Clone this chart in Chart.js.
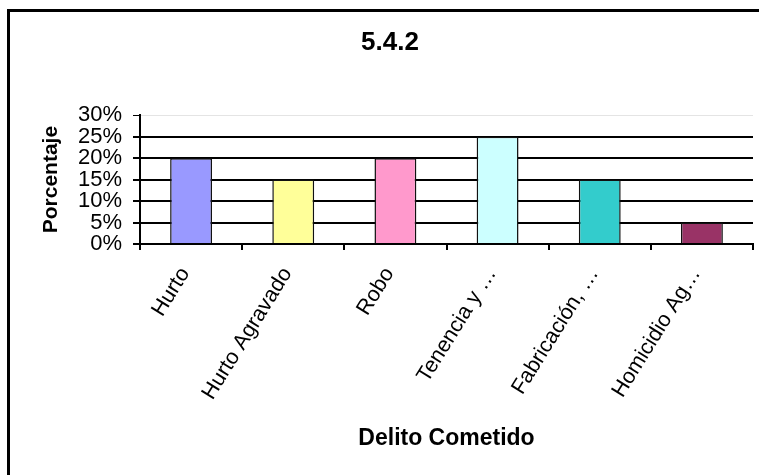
<!DOCTYPE html>
<html>
<head>
<meta charset="utf-8">
<script src="https://cdn.jsdelivr.net/npm/chart.js@4"></script>
<style>
  html, body { margin: 0; padding: 0; background: #fff; }
  #wrap { position: relative; width: 759px; height: 475px; }
</style>
</head>
<body>
<div id="wrap"><canvas id="delitos"></canvas></div>
<script>
// Delito cometido, porcentaje por tipo
const categories = ['Hurto', 'Hurto Agravado', 'Robo', 'Tenencia y …', 'Fabricación, …', 'Homicidio Ag…'];
const porcentajes = [20, 15, 20, 25, 15, 5];
const barColors = ['#9999FF', '#FFFF99', '#FF99CC', '#CCFFFF', '#33CCCC', '#993366'];
const yTicks = [0, 5, 10, 15, 20, 25, 30];

const FONT = "'Liberation Sans', Arial, sans-serif";

// white background plus the left/top frame lines
const framePlugin = {
  id: 'frame',
  beforeDraw(chart) {
    const ctx = chart.ctx;
    ctx.save();
    ctx.fillStyle = '#fff';
    ctx.fillRect(0, 0, chart.width, chart.height);
    ctx.fillStyle = '#000';
    ctx.fillRect(7, 9, 3, chart.height - 9);
    ctx.fillRect(7, 9, chart.width - 7, 3);
    ctx.restore();
  }
};

new Chart(document.getElementById('delitos'), {
  type: 'bar',
  data: {
    labels: categories,
    datasets: [{
      data: porcentajes,
      backgroundColor: barColors,
      borderColor: '#111',
      borderWidth: 1.5,
      barPercentage: 0.41,
      categoryPercentage: 1.0
    }]
  },
  options: {
    responsive: true,
    maintainAspectRatio: false,
    animation: false,
    layout: { padding: { left: 27, right: 6, top: 0, bottom: 0 } },
    plugins: {
      legend: { display: false },
      tooltip: { enabled: false },
      title: {
        display: true,
        text: '5.4.2',
        color: '#000',
        font: { family: FONT, size: 26, weight: 'bold' },
        padding: { top: 27, bottom: 57 }
      }
    },
    scales: {
      x: {
        grid: {
          display: true,
          drawOnChartArea: false,
          drawTicks: true,
          tickLength: 6,
          color: '#000',
          lineWidth: 2
        },
        border: { display: true, color: '#000', width: 2 },
        ticks: {
          color: '#000',
          font: { family: FONT, size: 21.5 },
          minRotation: 58,
          maxRotation: 58,
          padding: 13,
          labelOffset: -6,
          autoSkip: false
        },
        title: {
          display: true,
          text: 'Delito Cometido',
          color: '#000',
          font: { family: FONT, size: 23, weight: 'bold' },
          padding: { top: 0, bottom: 23 }
        },
        afterFit(scale) { scale.height = 231; }
      },
      y: {
        min: 0,
        max: 30,
        afterBuildTicks(scale) { scale.ticks = yTicks.map(v => ({ value: v })); },
        grid: {
          color: (c) => c.tick && c.tick.value === 30 ? '#e4e4e4' : '#000',
          lineWidth: (c) => c.tick && c.tick.value === 30 ? 1 : 2,
          tickColor: '#000',
          tickLength: 7,
          drawTicks: true
        },
        border: { display: true, color: '#000', width: 2 },
        ticks: {
          color: '#000',
          font: { family: FONT, size: 22 },
          padding: 11,
          autoSkip: false,
          callback: (v) => v + '%'
        },
        title: {
          display: true,
          text: 'Porcentaje',
          color: '#000',
          font: { family: FONT, size: 21, weight: 'bold' },
          padding: { top: 12, bottom: 0 }
        },
        afterFit(scale) { scale.width = 113; }
      }
    }
  },
  plugins: [framePlugin]
});
</script>
</body>
</html>
